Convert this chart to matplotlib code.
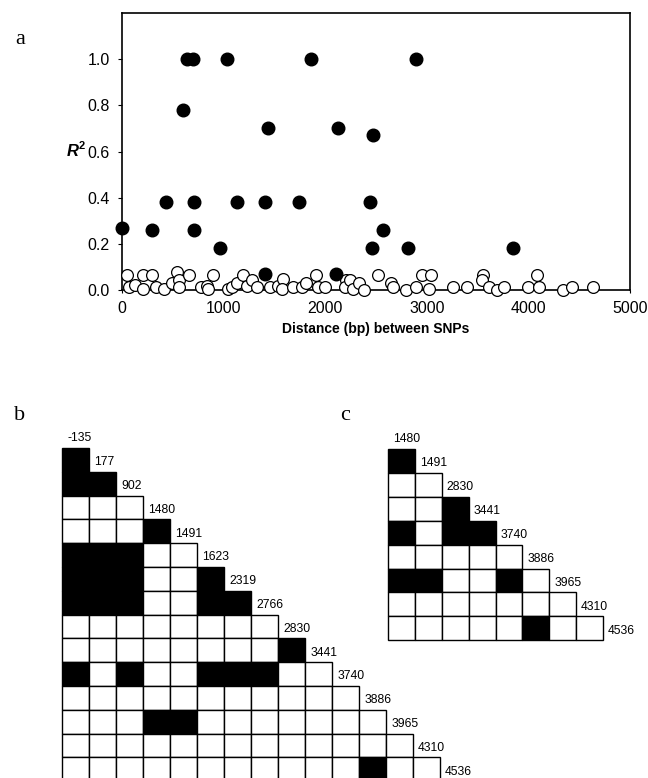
import matplotlib
matplotlib.use("Agg")
import matplotlib.pyplot as plt
from matplotlib.patches import Rectangle

plt.rcParams['font.family'] = ['Liberation Sans', 'DejaVu Sans']

# panel a: strong LD pairs (filled) and weak pairs (open)
strong_dist = [0, 292, 433, 603, 643, 702, 712, 712, 964, 1030, 1135, 1407, 1440,
               1407, 1742, 1860, 2106, 2129, 2890, 2473, 2440, 2571, 2457, 2818, 3850]
strong_r2 = [0.27, 0.26, 0.38, 0.78, 1.0, 1.0, 0.38, 0.26, 0.18, 1.0, 0.38, 0.38, 0.70,
             0.07, 0.38, 1.0, 0.07, 0.70, 1.0, 0.67, 0.38, 0.26, 0.18, 0.18, 0.18]

weak_dist = [46, 72, 128, 210, 210, 292, 335, 413, 489, 544, 558, 564, 659, 774, 840,
             850, 899, 1046, 1079, 1128, 1194, 1227, 1276, 1325, 1456, 1538, 1587, 1571,
             1686, 1768, 1810, 1909, 1932, 1997, 2204, 2194, 2243, 2270, 2335, 2381,
             2522, 2644, 2664, 2795, 2893, 2949, 3038, 3025, 3254, 3392, 3549, 3539,
             3614, 3687, 3762, 3998, 4081, 4106, 4336, 4424, 4637]
weak_r2 = [0.065, 0.012, 0.02, 0.065, 0.005, 0.065, 0.012, 0.005, 0.03, 0.08, 0.043,
           0.012, 0.065, 0.015, 0.018, 0.005, 0.065, 0.005, 0.012, 0.03, 0.065, 0.018,
           0.045, 0.012, 0.012, 0.018, 0.048, 0.005, 0.012, 0.015, 0.03, 0.065, 0.012,
           0.012, 0.043, 0.012, 0.043, 0.005, 0.03, 0.0, 0.065, 0.03, 0.012, 0.0, 0.012,
           0.065, 0.065, 0.005, 0.012, 0.012, 0.065, 0.043, 0.012, 0.0, 0.012, 0.012,
           0.065, 0.012, 0.0, 0.012, 0.012]

x_ticks = [0, 1000, 2000, 3000, 4000, 5000]
y_ticks = [0.0, 0.2, 0.4, 0.6, 0.8, 1.0]

# panels b and c: SNP positions and strong-LD flags per row (1 = black)
b_snps = ['-135', '177', '902', '1480', '1491', '1623', '2319', '2766', '2830',
          '3441', '3740', '3886', '3965', '4310', '4536']
b_rows = ['1', '11', '000', '0001', '11100', '111001', '1110011', '00000000',
          '000000001', '1010011100', '00000000000', '000110000000',
          '0000000000000', '00000000000100']

c_snps = ['1480', '1491', '2830', '3441', '3740', '3886', '3965', '4310', '4536']
c_rows = ['1', '00', '001', '1011', '00000', '110010', '0000000', '00000100']

fig = plt.figure(figsize=(6.48, 7.78), dpi=100)

ax = fig.add_axes([0.1883, 0.6272, 0.784, 0.3561])
ax.scatter(weak_dist, weak_r2, s=72, facecolors='white', edgecolors='black',
           linewidths=0.9, zorder=3, clip_on=False)
ax.scatter(strong_dist, strong_r2, s=82, color='black', zorder=4, clip_on=False)
ax.set_xlim(0, 5000)
ax.set_ylim(0, 1.2)
ax.set_xticks(x_ticks)
ax.set_yticks(y_ticks)
ax.set_xticklabels([str(v) for v in x_ticks], fontsize=11.5)
ax.set_yticklabels(['%.1f' % v for v in y_ticks], fontsize=11.5)
ax.tick_params(axis='y', length=3, width=0.8, pad=6)
ax.tick_params(axis='x', length=2, width=0.8, pad=6)
for s in ax.spines.values():
    s.set_linewidth(1.2)
ax.set_xlabel('Distance (bp) between SNPs', fontsize=10, fontweight='bold', labelpad=4)
fig.text(73 / 648, 1 - 152 / 778, 'R', fontsize=12, fontweight='bold', style='italic',
         ha='center', va='center')
fig.text(82 / 648, 1 - 146 / 778, '2', fontsize=8, fontweight='bold',
         ha='center', va='center')


def draw_ld(axg, snps, rows):
    for r, row in enumerate(rows, start=1):
        for c, v in enumerate(row):
            axg.add_patch(Rectangle((c, r), 1, 1, facecolor='black' if v == '1' else 'white',
                                    edgecolor='black', linewidth=1.0, clip_on=False))
    for r, name in enumerate(snps):
        axg.text(r + 0.18, r + 0.6, name, fontsize=8.7, ha='left', va='center', clip_on=False)
    axg.set_xlim(0, len(snps))
    axg.set_ylim(len(snps), 0)
    axg.axis('off')


axb = fig.add_axes([62.3 / 648, 1 - 781.2 / 778, 405 / 648, 357 / 778])
draw_ld(axb, b_snps, b_rows)

axc = fig.add_axes([388 / 648, 1 - 640.2 / 778, 242 / 648, 215.1 / 778])
draw_ld(axc, c_snps, c_rows)

for lab, x, y in [('a', 20, 40), ('b', 20, 415), ('c', 345, 415)]:
    fig.text(x / 648, 1 - y / 778, lab, fontsize=16, family='Liberation Serif',
             ha='center', va='center')

fig.savefig('out.png', dpi=100)
